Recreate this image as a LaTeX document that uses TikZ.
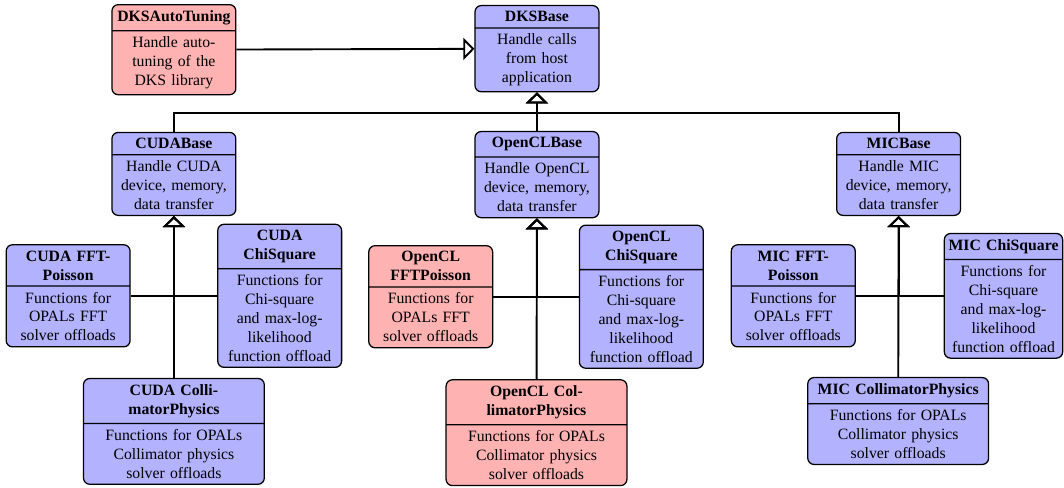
\documentclass[tikz,border=0pt]{standalone}
\usepackage{fontspec}
\setmainfont{Liberation Serif}
\usetikzlibrary{shapes.multipart, arrows.meta}
\tikzset{
    isa/.style={draw, very thick, -{Triangle[open, length=7pt, width=14pt]}}, % Open triangle for inheritance
    elbow/.style={to path={-| (\tikztotarget)}}, % Horizontal, then vertical
    class/.style={rectangle split, rectangle split parts=2, draw, thick,
        rounded corners, fill=blue!30, align=center, text width=2.53cm}, % Class boxes
    todo/.style={class, fill=red!30}, % Red classes
    wide/.style={text width=3.8cm}, % Collimator classes
}

\begin{document}
\begin{tikzpicture}
    \useasboundingbox (0,0) rectangle (23.74,-10.87);

    % top level
    \node[todo, anchor=north] (dksauto) at (3.88,-0.09) {\textbf{DKSAutoTuning} \nodepart{two} Handle auto-\\tuning of the\\DKS library};
    \node[class, anchor=north] (dksbase) at (11.98,-0.11) {\textbf{DKSBase} \nodepart{two} Handle calls\\from host\\application};

    % one base class per device
    \node[class, anchor=north] (cudabase) at (3.88,-2.94) {\textbf{CUDABase} \nodepart{two} Handle CUDA\\device, memory,\\data transfer};
    \node[class, anchor=north] (openclbase) at (11.98,-2.92) {\textbf{OpenCLBase} \nodepart{two} Handle OpenCL\\device, memory,\\data transfer};
    \node[class, anchor=north] (micbase) at (20.05,-2.94) {\textbf{MICBase} \nodepart{two} Handle MIC\\device, memory,\\data transfer};

    % CUDA
    \node[class] (cudafft) at (1.52,-6.6) {\textbf{CUDA FFT-}\\\textbf{Poisson} \nodepart{two} Functions for\\OPALs FFT\\solver offloads};
    \node[class] (cudachi) at (6.24,-6.6) {\textbf{CUDA}\\\textbf{ChiSquare} \nodepart{two} Functions for\\Chi-square\\and max-log-\\likelihood\\function offload};
    \node[class, wide, anchor=north] (cudacoll) at (3.88,-8.43) {\textbf{CUDA Colli-}\\\textbf{matorPhysics} \nodepart{two} Functions for OPALs\\Collimator physics\\solver offloads};

    % OpenCL
    \node[todo] (openclfft) at (9.61,-6.62) {\textbf{OpenCL}\\\textbf{FFTPoisson} \nodepart{two} Functions for\\OPALs FFT\\solver offloads};
    \node[class] (openclchi) at (14.31,-6.62) {\textbf{OpenCL}\\\textbf{ChiSquare} \nodepart{two} Functions for\\Chi-square\\and max-log-\\likelihood\\function offload};
    \node[todo, wide, anchor=north] (openclcoll) at (11.97,-8.46) {\textbf{OpenCL Col-}\\\textbf{limatorPhysics} \nodepart{two} Functions for OPALs\\Collimator physics\\solver offloads};

    % MIC
    \node[class] (micfft) at (17.70,-6.6) {\textbf{MIC FFT-}\\\textbf{Poisson} \nodepart{two} Functions for\\OPALs FFT\\solver offloads};
    \node[class, text width=2.5cm, inner xsep=2pt] (micchi) at (22.39,-6.6) {\textbf{MIC ChiSquare} \nodepart{two} Functions for\\Chi-square\\and max-log-\\likelihood\\function offload};
    \node[class, wide, anchor=north] (miccoll) at (20.04,-8.41) {\textbf{MIC CollimatorPhysics} \nodepart{two} Functions for OPALs\\Collimator physics\\solver offloads};

    \path
        (dksauto) edge[isa] (dksbase)
        (openclbase) edge[isa] (dksbase);
    \draw[isa] (cudabase.north) -- ++(0,0.42) -| (dksbase.south);
    \draw[isa] (micbase.north) -- ++(0,0.42) -| (dksbase.south);

    \path
        (cudafft.east) edge[isa, elbow] (cudabase.south)
        (cudachi.west) edge[isa, elbow] (cudabase.south)
        (cudacoll) edge[isa] (cudabase)
        (openclfft.east) edge[isa, elbow] (openclbase.south)
        (openclchi.west) edge[isa, elbow] (openclbase.south)
        (openclcoll) edge[isa] (openclbase)
        (micfft.east) edge[isa, elbow] (micbase.south)
        (micchi.west) edge[isa, elbow] (micbase.south)
        (miccoll) edge[isa] (micbase);
\end{tikzpicture}
\end{document}
